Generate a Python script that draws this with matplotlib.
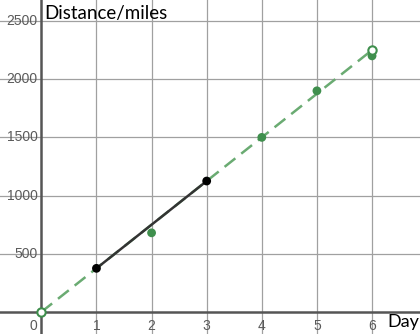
import matplotlib
matplotlib.use("Agg")
import matplotlib.pyplot as plt

plt.rcParams['font.family'] = ['Lato', 'DejaVu Sans']

# data
days_fit = [0, 6]
dist_fit = [0, 2250]
days_green = [2, 4, 5, 6]
dist_green = [680, 1500, 1900, 2200]
days_black = [1, 3]
dist_black = [375, 1125]
x_ticks = [1, 2, 3, 4, 5, 6]
y_ticks = [500, 1000, 1500, 2000, 2500]

grid_c = "#a0a0a0"
green = "#3f8f4d"
green_line = "#6aab72"
tick_c = "#5a5a5a"

fig = plt.figure(figsize=(4.2, 3.34), dpi=100)
ax = fig.add_axes([0, 0, 1, 1])
ax.set_xlim(-0.75, 6.87)
ax.set_ylim(-189, 2680)
for s in ax.spines.values():
    s.set_visible(False)
ax.set_xticks([])
ax.set_yticks([])

# grid
for x in x_ticks:
    ax.axvline(x, color=grid_c, lw=0.9, zorder=1)
for y in y_ticks:
    ax.axhline(y, color=grid_c, lw=0.9, zorder=1)
ax.axvline(0, color="#555555", lw=1.8, zorder=2)
ax.axhline(0, color="#555555", lw=1.8, zorder=2)

# tick labels
for x in x_ticks:
    ax.text(x, -60, str(x), ha="center", va="top", color=tick_c, fontsize=10,
            family=["Liberation Sans"])
ax.text(-0.07, -60, "0", ha="right", va="top", color=tick_c, fontsize=10,
        family=["Liberation Sans"])
for y in y_ticks:
    ax.text(-0.07, y, str(y), ha="right", va="center", color=tick_c, fontsize=10,
            family=["Liberation Sans"])

# fitted dashed line
ax.plot(days_fit, dist_fit, color=green_line, lw=1.8, ls=(0, (5.5, 3)), zorder=3)
ax.plot(days_black, dist_black, color="#333333", lw=1.8, zorder=4)
ax.scatter(days_green, dist_green, s=40, color=green, zorder=5, edgecolors="none")
ax.scatter(days_black, dist_black, s=40, color="black", zorder=6, edgecolors="none")
ax.scatter(days_fit, dist_fit, s=36, facecolors="white", edgecolors=green,
           linewidths=1.5, zorder=7)

ax.text(0.05, 2560, "Distance/miles", ha="left", va="center", fontsize=13.5, color="black")
ax.text(6.27, -90, "Day", ha="left", va="center", fontsize=13, color="black")

fig.savefig("out.png", dpi=100)
